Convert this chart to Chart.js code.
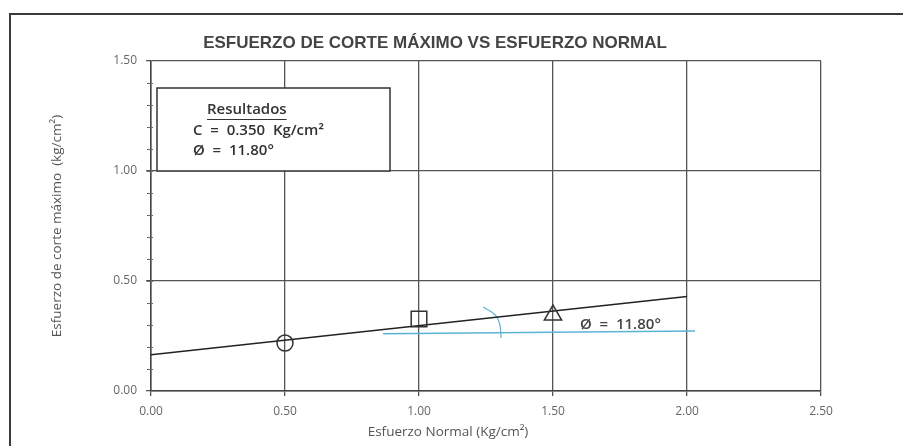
<!DOCTYPE html>
<html>
<head>
<meta charset="utf-8">
<script src="https://cdn.jsdelivr.net/npm/chart.js@4"></script>
<style>
  html, body { margin: 0; padding: 0; background: #fff; }
  #wrap { width: 903px; height: 446px; position: relative; }
</style>
</head>
<body>
<div id="wrap"><canvas id="chart" width="903" height="446"></canvas></div>
<script>
// Data
const xTicks = [0, 0.5, 1.0, 1.5, 2.0, 2.5];
const yTicks = [0, 0.5, 1.0, 1.5];
const testPoints = [
    { x: 0.5, y: 0.218, style: 'circle', r: 8 },
    { x: 1.0, y: 0.327, style: 'rect', r: 11 },
    { x: 1.5, y: 0.345, style: 'triangle', r: 10 }
];
const envelopeX = [0, 2.0];
const envelopeY = [0.165, 0.43];
const refLineX = [0.866, 2.03];
const refLineY = [0.26, 0.273];
const arcX = [1.239, 1.285, 1.302, 1.306];
const arcY = [0.382, 0.345, 0.300, 0.241];

const titleText = 'ESFUERZO DE CORTE MÁXIMO VS ESFUERZO NORMAL';
const xTitle = 'Esfuerzo Normal (Kg/cm²)';
const yTitle = 'Esfuerzo de corte máximo  (kg/cm²)';
const resultLines = ['Resultados', 'C  =  0.350  Kg/cm²', 'Ø  =  11.80°'];
const angleLabel = 'Ø  =  11.80°';

const toPts = (xs, ys) => xs.map((x, i) => ({ x: x, y: ys[i] }));

// Frame, titles, minor ticks, results box and annotation
const decorPlugin = {
    id: 'decor',
    afterDatasetsDraw(chart) {
        const ctx = chart.ctx;
        const xs = chart.scales.x, ys = chart.scales.y;
        ctx.save();

        // outer frame
        ctx.strokeStyle = '#3a3a3a';
        ctx.lineWidth = 2;
        ctx.beginPath();
        ctx.moveTo(10, 446);
        ctx.lineTo(10, 14);
        ctx.lineTo(903, 14);
        ctx.stroke();

        // title
        ctx.fillStyle = '#444';
        ctx.font = 'bold 17px "Liberation Sans", Arial, sans-serif';
        ctx.textAlign = 'center';
        ctx.textBaseline = 'middle';
        ctx.fillText(titleText, 435, 43);

        // axis titles
        ctx.fillStyle = '#555';
        ctx.font = '13.5px "Open Sans", sans-serif';
        ctx.fillText(xTitle, 448, 432);
        ctx.save();
        ctx.translate(57, (ys.top + ys.bottom) / 2);
        ctx.rotate(-Math.PI / 2);
        ctx.fillText(yTitle, 0, 0);
        ctx.restore();

        // minor ticks on y axis
        ctx.strokeStyle = '#666';
        ctx.lineWidth = 1;
        for (let v = 0.1; v < 1.5; v += 0.1) {
            const py = Math.round(ys.getPixelForValue(v)) + 0.5;
            ctx.beginPath();
            ctx.moveTo(xs.left - 4, py);
            ctx.lineTo(xs.left + 2, py);
            ctx.stroke();
        }

        // results box
        const bx = 157, by = 88, bw = 233, bh = ys.getPixelForValue(1.0) - 88;
        ctx.fillStyle = '#fff';
        ctx.fillRect(bx, by, bw, bh);
        ctx.strokeStyle = '#333';
        ctx.lineWidth = 1.5;
        ctx.strokeRect(bx, by, bw, bh);

        ctx.fillStyle = '#333';
        ctx.textAlign = 'left';
        ctx.font = '600 15px "Open Sans", sans-serif';
        ctx.fillText(resultLines[0], 207, 110);
        const w = ctx.measureText(resultLines[0]).width;
        ctx.lineWidth = 1;
        ctx.beginPath();
        ctx.moveTo(207, 119.5);
        ctx.lineTo(207 + w, 119.5);
        ctx.stroke();
        ctx.fillText(resultLines[1], 193, 131);
        ctx.fillText(resultLines[2], 193, 151);

        // angle label
        ctx.fillStyle = '#444';
        ctx.fillText(angleLabel, 580, 325);

        ctx.restore();
    }
};

new Chart(document.getElementById('chart').getContext('2d'), {
    type: 'scatter',
    data: {
        datasets: [
            {
                data: testPoints.map(p => ({ x: p.x, y: p.y })),
                pointStyle: testPoints.map(p => p.style),
                pointRadius: testPoints.map(p => p.r),
                pointBorderWidth: 1.5,
                borderColor: '#333',
                pointBackgroundColor: 'rgba(0,0,0,0)',
                showLine: false
            },
            {
                data: toPts(envelopeX, envelopeY),
                showLine: true,
                borderColor: '#222',
                borderWidth: 1.5,
                pointRadius: 0
            },
            {
                data: toPts(refLineX, refLineY),
                showLine: true,
                borderColor: '#5bb3d3',
                borderWidth: 1.5,
                pointRadius: 0
            },
            {
                data: toPts(arcX, arcY),
                showLine: true,
                tension: 0.4,
                borderColor: '#5bb3d3',
                borderWidth: 1.2,
                pointRadius: 0
            }
        ]
    },
    options: {
        responsive: false,
        animation: false,
        layout: { padding: { top: 61, right: 82, left: 0, bottom: 0 } },
        plugins: {
            legend: { display: false },
            tooltip: { enabled: false },
            title: { display: false }
        },
        scales: {
            x: {
                type: 'linear',
                min: 0,
                max: 2.5,
                afterBuildTicks: s => { s.ticks = xTicks.map(v => ({ value: v })); },
                afterFit: s => { s.height = 55; },
                grid: { color: '#555', lineWidth: 1.3, tickLength: 5, tickColor: '#555' },
                border: { color: '#444', width: 1.5 },
                ticks: {
                    padding: 8,
                    color: '#666',
                    font: { family: 'Open Sans', size: 12 },
                    callback: v => v.toFixed(2)
                }
            },
            y: {
                type: 'linear',
                min: 0,
                max: 1.5,
                afterBuildTicks: s => { s.ticks = yTicks.map(v => ({ value: v })); },
                afterFit: s => { s.width = 151; },
                grid: { color: '#555', lineWidth: 1.3, tickLength: 5, tickColor: '#555' },
                border: { color: '#444', width: 1.5 },
                ticks: {
                    padding: 9,
                    color: '#666',
                    font: { family: 'Open Sans', size: 12 },
                    callback: v => v.toFixed(2)
                }
            }
        }
    },
    plugins: [decorPlugin]
});
</script>
</body>
</html>
